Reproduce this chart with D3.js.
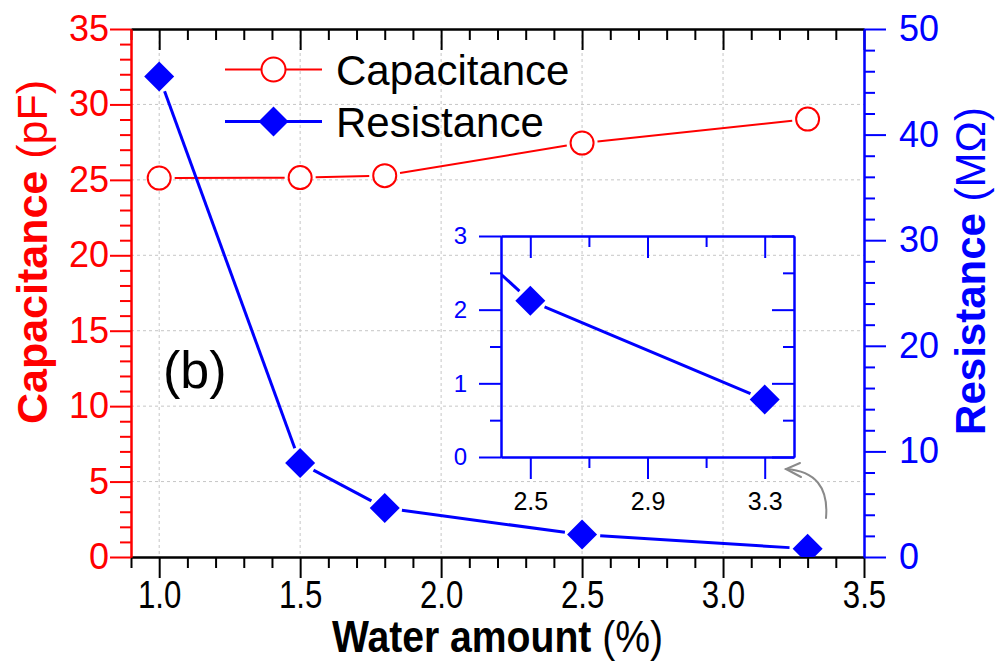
<!DOCTYPE html>
<html>
<head>
<meta charset="utf-8">
<script src="https://cdn.jsdelivr.net/npm/d3@7"></script>
<style>
  body { margin: 0; background: #fff; }
  svg { display: block; }
  text { font-family: "Liberation Sans", Arial, Helvetica, sans-serif; }
</style>
</head>
<body>
<svg id="chart" width="1000" height="664"></svg>
<script>
// ---- data ----
const waterAmount = [1.0, 1.5, 1.8, 2.5, 3.3];          // %
const capacitance = [25.12, 25.15, 25.28, 27.44, 29.03]; // pF
const resistance  = [45.5, 8.9, 4.64, 2.12, 0.78];       // MΩ

const xTicks      = [1.0, 1.5, 2.0, 2.5, 3.0, 3.5];
const capTicks    = [0, 5, 10, 15, 20, 25, 30, 35];
const resTicks    = [0, 10, 20, 30, 40, 50];
const insetXTicks = [2.5, 2.9, 3.3];
const insetYTicks = [0, 1, 2, 3];

const seriesNames = ["Capacitance", "Resistance"];

// ---- layout ----
const svg = d3.select("#chart");
const plot = { left: 131, right: 864, top: 29, bottom: 557 };
const inset = { left: 501, right: 794, top: 236, bottom: 457 };

const RED = "#ff0000", BLUE = "#0000ff", GRID = "#c6c6c6";
const CIRCLE_R = 11.5, DIAMOND_HALF = 15;

const x  = d3.scaleLinear().domain([0.9, 3.5]).range([plot.left, plot.right]);
const yC = d3.scaleLinear().domain([0, 35]).range([plot.bottom, plot.top]);
const yR = d3.scaleLinear().domain([0, 50]).range([plot.bottom, plot.top]);

const ix = d3.scaleLinear().domain([2.4, 3.4]).range([inset.left, inset.right]);
const iy = d3.scaleLinear().domain([0, 3]).range([inset.bottom, inset.top]);

const defs = svg.append("defs");
defs.append("clipPath").attr("id", "plotClip").append("rect")
  .attr("x", plot.left).attr("y", plot.top)
  .attr("width", plot.right - plot.left).attr("height", plot.bottom - plot.top);
defs.append("clipPath").attr("id", "insetClip").append("rect")
  .attr("x", inset.left).attr("y", inset.top)
  .attr("width", inset.right - inset.left).attr("height", inset.bottom - inset.top);

// ---- grid ----
const grid = svg.append("g")
  .attr("stroke", GRID).attr("stroke-width", 1).attr("stroke-dasharray", "3,3");
grid.selectAll("line.gx").data(xTicks.filter(d => d > 0.9 && d < 3.5)).join("line")
  .attr("class", "gx")
  .attr("x1", d => x(d)).attr("x2", d => x(d))
  .attr("y1", plot.top).attr("y2", plot.bottom);
grid.selectAll("line.gy").data(capTicks.filter(d => d > 0 && d < 35)).join("line")
  .attr("class", "gy")
  .attr("x1", plot.left).attr("x2", plot.right)
  .attr("y1", d => yC(d)).attr("y2", d => yC(d));

// ---- axis helpers ----
function styleAxis(g, color, width, fontSize, textColor) {
  g.attr("font-family", null).attr("font-size", null);
  g.selectAll(".domain").attr("stroke", color).attr("stroke-width", width);
  g.selectAll(".tick line").attr("stroke", color).attr("stroke-width", width);
  g.selectAll(".tick text").attr("fill", textColor || color)
    .style("font-size", fontSize + "px");
  return g;
}
function minorOf(lo, hi, step, majors) {
  const out = [];
  for (let i = Math.round(lo / step); i <= Math.round(hi / step); i++) {
    const v = +(i * step).toFixed(6);
    if (!majors.some(m => Math.abs(m - v) < 1e-6)) out.push(v);
  }
  return out;
}

// ---- main axes ----
const xMinor = minorOf(0.9, 3.5, 0.1, xTicks);

// bottom
const gBottom = svg.append("g").attr("transform", `translate(0,${plot.bottom})`);
gBottom.append("g").call(d3.axisBottom(x).tickValues(xMinor).tickSize(11).tickSizeOuter(0).tickFormat(""))
  .call(g => styleAxis(g, "#000", 2, 0));
gBottom.append("g").call(d3.axisBottom(x).tickValues(xTicks).tickSize(21).tickSizeOuter(0)
    .tickPadding(2).tickFormat(d3.format(".1f")))
  .call(g => styleAxis(g, "#000", 2, 39, "#000"))
  .call(g => g.selectAll(".tick text").attr("transform", "scale(0.8,1)"));

// top
const gTop = svg.append("g").attr("transform", `translate(0,${plot.top})`);
gTop.append("g").call(d3.axisTop(x).tickValues(xMinor).tickSize(-11).tickSizeOuter(0).tickFormat(""))
  .call(g => styleAxis(g, "#000", 2, 0));
gTop.append("g").call(d3.axisTop(x).tickValues(xTicks).tickSize(-21).tickSizeOuter(0).tickFormat(""))
  .call(g => styleAxis(g, "#000", 2, 0));

// left (capacitance)
const gLeft = svg.append("g").attr("transform", `translate(${plot.left},0)`);
gLeft.append("g").call(d3.axisLeft(yC).tickValues(minorOf(0, 35, 1, capTicks)).tickSize(11).tickSizeOuter(0).tickFormat(""))
  .call(g => styleAxis(g, RED, 2, 0));
gLeft.append("g").call(d3.axisLeft(yC).tickValues(capTicks).tickSize(21).tickSizeOuter(0).tickPadding(1))
  .call(g => styleAxis(g, RED, 2, 36));

// right (resistance)
const gRight = svg.append("g").attr("transform", `translate(${plot.right},0)`);
gRight.append("g").call(d3.axisRight(yR).tickValues(minorOf(0, 50, 2, resTicks)).tickSize(11).tickSizeOuter(0).tickFormat(""))
  .call(g => styleAxis(g, BLUE, 2, 0));
gRight.append("g").call(d3.axisRight(yR).tickValues(resTicks).tickSize(22).tickSizeOuter(0).tickPadding(13))
  .call(g => styleAxis(g, BLUE, 2, 36));

// ---- axis titles ----
svg.append("text")
  .attr("transform", `translate(${(plot.left + plot.right) / 2},652) scale(0.87,1)`)
  .attr("text-anchor", "middle").style("font-size", "45px").attr("fill", "#000")
  .call(t => {
    t.append("tspan").attr("font-weight", "bold").text("Water amount");
    t.append("tspan").text(" (%)");
  });

svg.append("text")
  .attr("transform", `translate(47,252) rotate(-90)`)
  .attr("text-anchor", "middle").style("font-size", "43px").attr("fill", RED)
  .call(t => {
    t.append("tspan").attr("font-weight", "bold").text("Capacitance");
    t.append("tspan").text(" (pF)");
  });

svg.append("text")
  .attr("transform", `translate(985,271) rotate(-90)`)
  .attr("text-anchor", "middle").style("font-size", "42px").attr("fill", BLUE)
  .call(t => {
    t.append("tspan").attr("font-weight", "bold").text("Resistance");
    t.append("tspan").text(" (MΩ)");
  });

// ---- line segments that stop short of the symbols ----
function gappedSegments(pts, shrink) {
  const segs = [];
  for (let i = 0; i < pts.length - 1; i++) {
    const [x0, y0] = pts[i], [x1, y1] = pts[i + 1];
    const dx = x1 - x0, dy = y1 - y0, len = Math.hypot(dx, dy);
    const ux = dx / len, uy = dy / len;
    const s = shrink(ux, uy);
    if (len > 2 * s) segs.push([x0 + ux * s, y0 + uy * s, x1 - ux * s, y1 - uy * s]);
  }
  return segs;
}
const circleShrink = () => CIRCLE_R + 4;
const diamondShrink = (ux, uy) => DIAMOND_HALF / (Math.abs(ux) + Math.abs(uy)) + 4;

const diamond = d3.symbol().type(d3.symbolSquare).size(Math.pow(DIAMOND_HALF * Math.SQRT2, 2));

const capPts = waterAmount.map((w, i) => [x(w), yC(capacitance[i])]);
const resPts = waterAmount.map((w, i) => [x(w), yR(resistance[i])]);

const dataLayer = svg.append("g").attr("clip-path", "url(#plotClip)");

// capacitance series
dataLayer.append("g").selectAll("line").data(gappedSegments(capPts, circleShrink)).join("line")
  .attr("x1", d => d[0]).attr("y1", d => d[1]).attr("x2", d => d[2]).attr("y2", d => d[3])
  .attr("stroke", RED).attr("stroke-width", 2);
dataLayer.append("g").selectAll("circle").data(capPts).join("circle")
  .attr("cx", d => d[0]).attr("cy", d => d[1]).attr("r", CIRCLE_R)
  .attr("fill", "#fff").attr("stroke", RED).attr("stroke-width", 2);

// resistance series
dataLayer.append("g").selectAll("line").data(gappedSegments(resPts, diamondShrink)).join("line")
  .attr("x1", d => d[0]).attr("y1", d => d[1]).attr("x2", d => d[2]).attr("y2", d => d[3])
  .attr("stroke", BLUE).attr("stroke-width", 3);
dataLayer.append("g").selectAll("path").data(resPts).join("path")
  .attr("d", diamond)
  .attr("transform", d => `translate(${d[0]},${d[1]}) rotate(45)`)
  .attr("fill", BLUE);

// ---- legend ----
const legend = svg.append("g");
const legendRows = [
  { name: seriesNames[0], y: 69.5, color: RED },
  { name: seriesNames[1], y: 121.5, color: BLUE }
];
legendRows.forEach((row, i) => {
  legend.append("line").attr("x1", 225).attr("x2", 322).attr("y1", row.y).attr("y2", row.y)
    .attr("stroke", row.color).attr("stroke-width", i === 0 ? 2 : 3);
  if (i === 0) {
    legend.append("circle").attr("cx", 273.5).attr("cy", row.y).attr("r", CIRCLE_R + 0.5)
      .attr("fill", "#fff").attr("stroke", RED).attr("stroke-width", 2);
  } else {
    legend.append("path").attr("d", diamond)
      .attr("transform", `translate(273.5,${row.y}) rotate(45)`).attr("fill", BLUE);
  }
  legend.append("text").attr("x", 336).attr("y", row.y + 15)
    .style("font-size", "42px").attr("fill", "#000").text(row.name);
});

// ---- panel tag ----
svg.append("text").attr("x", 163).attr("y", 388)
  .style("font-size", "52px").attr("fill", "#000").text("(b)");

// ---- inset: low-resistance region ----
const gIn = svg.append("g");
gIn.append("g").attr("transform", `translate(0,${inset.bottom})`)
  .call(d3.axisBottom(ix).tickValues([2.7, 3.1]).tickSize(11).tickSizeOuter(0).tickFormat(""))
  .call(g => styleAxis(g, BLUE, 2, 0));
gIn.append("g").attr("transform", `translate(0,${inset.bottom})`)
  .call(d3.axisBottom(ix).tickValues(insetXTicks).tickSize(22).tickSizeOuter(0).tickPadding(13).tickFormat(d3.format(".1f")))
  .call(g => styleAxis(g, BLUE, 2, 25, "#000"));
gIn.append("g").attr("transform", `translate(0,${inset.top})`)
  .call(d3.axisTop(ix).tickValues([2.7, 3.1]).tickSize(-11).tickSizeOuter(0).tickFormat(""))
  .call(g => styleAxis(g, BLUE, 2, 0));
gIn.append("g").attr("transform", `translate(0,${inset.top})`)
  .call(d3.axisTop(ix).tickValues(insetXTicks).tickSize(-22).tickSizeOuter(0).tickFormat(""))
  .call(g => styleAxis(g, BLUE, 2, 0));
gIn.append("g").attr("transform", `translate(${inset.left},0)`)
  .call(d3.axisLeft(iy).tickValues([0.5, 1.5, 2.5]).tickSize(11).tickSizeOuter(0).tickFormat(""))
  .call(g => styleAxis(g, BLUE, 2, 0));
gIn.append("g").attr("transform", `translate(${inset.left},0)`)
  .call(d3.axisLeft(iy).tickValues(insetYTicks).tickSize(22).tickSizeOuter(0).tickPadding(12).tickFormat(d3.format("d")))
  .call(g => styleAxis(g, BLUE, 2, 24));
gIn.append("g").attr("transform", `translate(${inset.right},0)`)
  .call(d3.axisRight(iy).tickValues([0.5, 1.5, 2.5]).tickSize(-11).tickSizeOuter(0).tickFormat(""))
  .call(g => styleAxis(g, BLUE, 2, 0));
gIn.append("g").attr("transform", `translate(${inset.right},0)`)
  .call(d3.axisRight(iy).tickValues(insetYTicks).tickSize(-22).tickSizeOuter(0).tickFormat(""))
  .call(g => styleAxis(g, BLUE, 2, 0));

const inPts = waterAmount.map((w, i) => [ix(w), iy(resistance[i])]);
const inLayer = gIn.append("g").attr("clip-path", "url(#insetClip)");
inLayer.selectAll("line").data(gappedSegments(inPts, diamondShrink)).join("line")
  .attr("x1", d => d[0]).attr("y1", d => d[1]).attr("x2", d => d[2]).attr("y2", d => d[3])
  .attr("stroke", BLUE).attr("stroke-width", 3);
inLayer.selectAll("path").data(inPts).join("path")
  .attr("d", diamond)
  .attr("transform", d => `translate(${d[0]},${d[1]}) rotate(45)`)
  .attr("fill", BLUE);

// ---- pointer from the last data point to the inset ----
const arrow = svg.append("g").attr("stroke", "#8a8a8a").attr("stroke-width", 2)
  .attr("fill", "none").attr("stroke-linecap", "round");
const arrowPath = d3.path();
arrowPath.moveTo(826, 518);
arrowPath.quadraticCurveTo(830, 472, 786, 469);
arrow.append("path").attr("d", arrowPath.toString());
arrow.append("path").attr("d", "M800,463 L786,469 L801,477");
</script>
</body>
</html>
